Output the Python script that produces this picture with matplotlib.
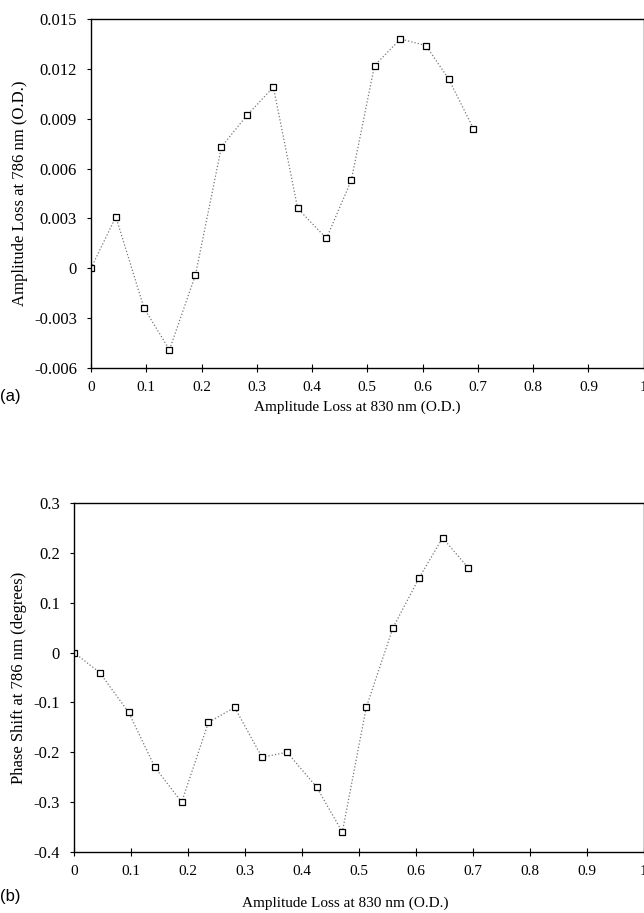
import matplotlib
matplotlib.use('Agg')
from matplotlib import pyplot as plt

# amplitude loss at 830 nm (shared x for both panels)
amp_830 = [0, 0.045, 0.096, 0.142, 0.189, 0.236, 0.282, 0.330, 0.374, 0.426,
           0.471, 0.513, 0.560, 0.606, 0.647, 0.692]
# panel (a): amplitude loss at 786 nm
amp_786 = [0, 0.0031, -0.0024, -0.0049, -0.0004, 0.0073, 0.0092, 0.0109, 0.0036,
           0.0018, 0.0053, 0.0122, 0.0138, 0.0134, 0.0114, 0.0084]
# panel (b): phase shift at 786 nm
phase_786 = [0, -0.04, -0.12, -0.23, -0.30, -0.14, -0.11, -0.21, -0.20, -0.27,
             -0.36, -0.11, 0.05, 0.15, 0.23, 0.17]

x_ticks = [0, 0.1, 0.2, 0.3, 0.4, 0.5, 0.6, 0.7, 0.8, 0.9, 1]
x_ticklabels = ['0', '0.1', '0.2', '0.3', '0.4', '0.5', '0.6', '0.7', '0.8', '0.9', '1']
a_yticks = [-0.006, -0.003, 0, 0.003, 0.006, 0.009, 0.012, 0.015]
a_yticklabels = ['-0.006', '-0.003', '0', '0.003', '0.006', '0.009', '0.012', '0.015']
b_yticks = [-0.4, -0.3, -0.2, -0.1, 0, 0.1, 0.2, 0.3]
b_yticklabels = ['-0.4', '-0.3', '-0.2', '-0.1', '0', '0.1', '0.2', '0.3']

plt.rcParams['font.family'] = ['Liberation Serif', 'DejaVu Serif']
plt.rcParams['font.size'] = 11

fig = plt.figure(figsize=(6.44, 9.13), dpi=100)

def panel(rect, y, yticks, yticklabels, ylim, ylabel):
	ax = fig.add_axes(rect)
	ax.plot(amp_830, y, linestyle=':', color='#777777', lw=0.9,
	        marker='s', markersize=4.5, mfc='white', mec='black', mew=0.9)
	ax.set_xlim(0, 1)
	ax.set_ylim(*ylim)
	ax.set_xticks(x_ticks)
	ax.set_xticklabels(x_ticklabels)
	ax.set_yticks(yticks)
	ax.set_yticklabels(yticklabels)
	ax.tick_params(axis='x', direction='inout', length=6, width=0.8, pad=6, labelsize=11)
	ax.tick_params(axis='y', direction='out', length=3, width=0.8, pad=7, labelsize=12)
	for s in ax.spines.values():
		s.set_linewidth(1.0)
	ax.set_ylabel(ylabel, labelpad=4.5, fontsize=12)
	return ax

ax1 = panel([0.1413, 0.5969, 0.8582, 0.3823], amp_786, a_yticks, a_yticklabels,
            (-0.006, 0.015), 'Amplitude Loss at 786 nm (O.D.)')
ax1.set_xlabel('Amplitude Loss at 830 nm (O.D.)')
ax1.xaxis.set_label_coords(0.482, -0.112)
ax1.xaxis.label.set_va('center')
fig.text(0.0, 1 - 397 / 913, '(a)', family='Liberation Sans', fontsize=12,
         ha='left', va='center')

ax2 = panel([0.1149, 0.0668, 0.8846, 0.3823], phase_786, b_yticks, b_yticklabels,
            (-0.4, 0.3), 'Phase Shift at 786 nm (degrees)')
ax2.set_xlabel('Amplitude Loss at 830 nm (O.D.)')
ax2.xaxis.set_label_coords(0.477, -0.146)
ax2.xaxis.label.set_va('center')
fig.text(0.0, 1 - 896 / 913, '(b)', family='Liberation Sans', fontsize=12,
         ha='left', va='center')

plt.savefig('out.png', dpi=100)
